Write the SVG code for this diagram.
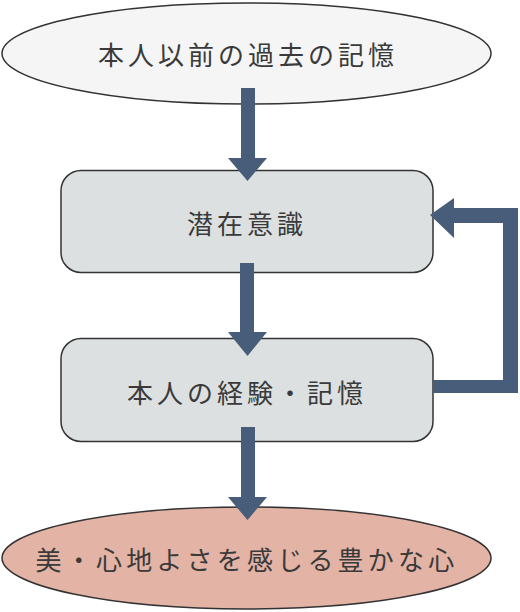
<svg xmlns="http://www.w3.org/2000/svg" width="520" height="612" viewBox="0 0 520 612">
<style>
.lbl{font-family:"Noto Sans CJK JP","Noto Sans CJK SC",sans-serif;font-size:26px;fill:#3a3a3a;text-anchor:middle;dominant-baseline:central;}
.node{stroke:#333;stroke-width:1.5;}
.arr{fill:#475d7a;}
</style>
<rect width="520" height="612" fill="#fff"/>
<g id="past">
<ellipse class="node" cx="246.5" cy="53.5" rx="244.5" ry="50.5" fill="#f5f5f5"/>
<text class="lbl" x="248" y="53" letter-spacing="4">本人以前の過去の記憶</text>
</g>
<g id="subconscious">
<rect class="node" x="61" y="170.5" width="372" height="102" rx="20" fill="#dce0e1"/>
<text class="lbl" x="247" y="222" letter-spacing="4">潜在意識</text>
</g>
<g id="experience">
<rect class="node" x="61" y="338.5" width="372" height="103" rx="20" fill="#dce0e1"/>
<text class="lbl" x="247" y="391" letter-spacing="4">本人の経験・記憶</text>
</g>
<g id="heart">
<ellipse class="node" cx="246.5" cy="558" rx="244.5" ry="51" fill="#e3b3a5"/>
<text class="lbl" x="247" y="558" letter-spacing="4.2">美・心地よさを感じる豊かな心</text>
</g>
<g id="connectors">
<polygon class="arr" points="241,88 255,88 255,158 267,158 247.5,181 228,158 241,158"/>
<polygon class="arr" points="240,263 254,263 254,332 267,332 247.5,356 228,332 240,332"/>
<polygon class="arr" points="241,427 255,427 255,497 267,497 247.5,520 228,497 241,497"/>
<polygon class="arr" points="433,380 503,380 503,223 454,223 454,238 430,215 454,198 454,208 518,208 518,393 433,393"/>
</g>
</svg>
